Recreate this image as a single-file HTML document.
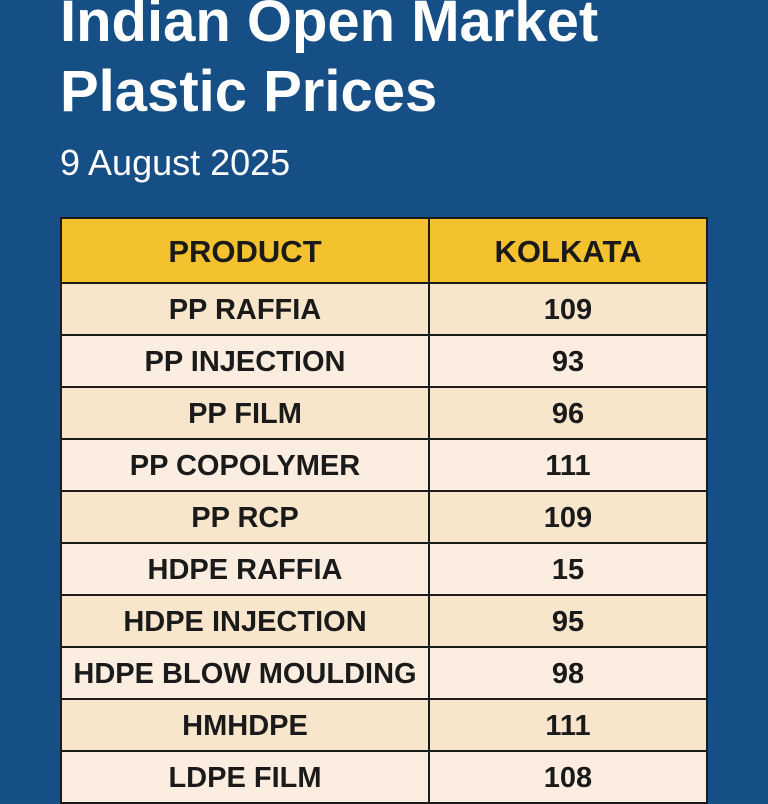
<!DOCTYPE html>
<html><head><style>
body{margin:0;width:768px;height:768px;overflow:hidden;background:#164f86;font-family:"Liberation Sans",sans-serif;position:relative}
.t{position:absolute;left:60px;color:#fff;white-space:nowrap}
table{position:absolute;left:60px;top:217px;width:648px;border-collapse:collapse;table-layout:fixed}
td{border:2px solid #1b1b1b;text-align:center;font-weight:bold;color:#1a1a1a;font-size:29px;height:50px;padding:3px 0 0 0;box-sizing:border-box}
tr.h td{background:#f3c22e;height:65px;font-size:31px}
tr td{height:52px}
tr:nth-child(even) td{background:#f8e6cc}
tr:nth-child(odd):not(.h) td{background:#fbeee0}
</style></head><body>
<div class="t" style="top:-13px;font-size:58px;line-height:70px;font-weight:600">Indian Open Market<br>Plastic Prices</div>
<div class="t" style="top:142px;font-size:36px">9 August 2025</div>
<table>
<col style="width:368px"><col>
<tr class="h"><td>PRODUCT</td><td>KOLKATA</td></tr>
<tr><td>PP RAFFIA</td><td>109</td></tr>
<tr><td>PP INJECTION</td><td>93</td></tr>
<tr><td>PP FILM</td><td>96</td></tr>
<tr><td>PP COPOLYMER</td><td>111</td></tr>
<tr><td>PP RCP</td><td>109</td></tr>
<tr><td>HDPE RAFFIA</td><td>15</td></tr>
<tr><td>HDPE INJECTION</td><td>95</td></tr>
<tr><td>HDPE BLOW MOULDING</td><td>98</td></tr>
<tr><td>HMHDPE</td><td>111</td></tr>
<tr><td>LDPE FILM</td><td>108</td></tr>
</table>
</body></html>
